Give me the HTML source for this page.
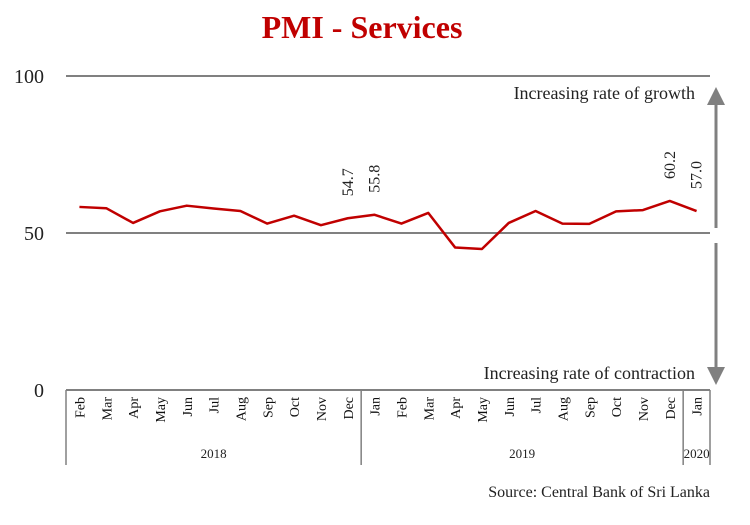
<!DOCTYPE html>
<html><head><meta charset="utf-8"><style>
body{margin:0;background:#fff;}
svg{display:block;}
</style></head><body>
<svg id="chart" width="750" height="525" viewBox="0 0 750 525" xmlns="http://www.w3.org/2000/svg">
<text x="362" y="38" text-anchor="middle" font-family="Liberation Serif, serif" font-weight="bold" font-size="32" fill="#c00000">PMI - Services</text>
<g id="grid"></g>
<g id="axis"></g>
<g id="series"></g>
<g>
<line x1="716" y1="100" x2="716" y2="228" stroke="#808080" stroke-width="3"/>
<polygon points="707,105 725,105 716,87" fill="#808080"/>
</g>
<g>
<line x1="716" y1="243" x2="716" y2="372" stroke="#808080" stroke-width="3"/>
<polygon points="707,367 725,367 716,385" fill="#808080"/>
</g>
<text x="695" y="99" text-anchor="end" font-family="Liberation Serif, serif" font-size="18" fill="#222">Increasing rate of growth</text>
<text x="695" y="379" text-anchor="end" font-family="Liberation Serif, serif" font-size="18" fill="#222">Increasing rate of contraction</text>
<text x="710" y="497" text-anchor="end" font-family="Liberation Serif, serif" font-size="16" fill="#222">Source: Central Bank of Sri Lanka</text>
</svg>
<script>
const months = ["Feb","Mar","Apr","May","Jun","Jul","Aug","Sep","Oct","Nov","Dec","Jan","Feb","Mar","Apr","May","Jun","Jul","Aug","Sep","Oct","Nov","Dec","Jan"];
const values = [58.3,57.9,53.2,56.9,58.7,57.8,57.0,53.0,55.5,52.5,54.7,55.8,53.0,56.4,45.4,44.9,53.2,57.0,53.0,52.9,56.9,57.3,60.2,57.0];
const labeled = [10,11,22,23];
const yTicks = [0,50,100];
const years = [{name:"2018",from:0,to:11},{name:"2019",from:11,to:23},{name:"2020",from:23,to:24}];

const NS="http://www.w3.org/2000/svg";
const x0=66,x1=710,y0=390,y100=76;
const bw=(x1-x0)/months.length;
const xs=i=>x0+bw*(i+0.5);
const ys=v=>y0+(y100-y0)*v/100;
function mk(tag,attrs,parent){const e=document.createElementNS(NS,tag);for(const k in attrs)e.setAttribute(k,attrs[k]);parent.appendChild(e);return e;}
const grid=document.getElementById('grid'),axis=document.getElementById('axis'),series=document.getElementById('series');
yTicks.forEach(t=>{
  const y=ys(t);
  if(t>0){const l=mk('line',{x1:x0,x2:x1,y1:y,y2:y,stroke:'#808080','stroke-width':2},grid);
  
  }
  const tx=mk('text',{x:44,y:y+7,'text-anchor':'end','font-family':'Liberation Serif, serif','font-size':20,fill:'#222'},axis);
  tx.textContent=t;
  
  
});
const base=mk('line',{x1:x0,x2:x1,y1:y0,y2:y0,stroke:'#808080','stroke-width':2},axis);


months.forEach((m,i)=>{
  const t=mk('text',{transform:`translate(${xs(i)+5},397) rotate(-90)`,'text-anchor':'end','font-family':'Liberation Serif, serif','font-size':14,fill:'#111'},axis);
  t.textContent=m;
  
  
});
const dividers=[0];years.forEach(y=>dividers.push(y.to));
dividers.forEach((d,i)=>{
  const x=x0+bw*d;
  const l=mk('line',{x1:x,x2:x,y1:y0,y2:465,stroke:'#808080','stroke-width':1.5},axis);
  
  
});
years.forEach(y=>{
  const cx=x0+bw*(y.from+y.to)/2;
  const t=mk('text',{x:cx,y:458,'text-anchor':'middle','font-family':'Liberation Serif, serif','font-size':13,fill:'#222'},axis);
  t.textContent=y.name;
  
  
});
const pl=mk('polyline',{points:values.map((v,i)=>xs(i)+','+ys(v)).join(' '),fill:'none',stroke:'#c00000','stroke-width':2.5,'stroke-linejoin':'round'},series);


labeled.forEach(i=>{
  const t=mk('text',{transform:`translate(${xs(i)+5},${ys(values[i])-22}) rotate(-90)`,'font-family':'Liberation Serif, serif','font-size':16,fill:'#222'},series);
  t.textContent=values[i].toFixed(1);
  
  
});
</script>
</body></html>
